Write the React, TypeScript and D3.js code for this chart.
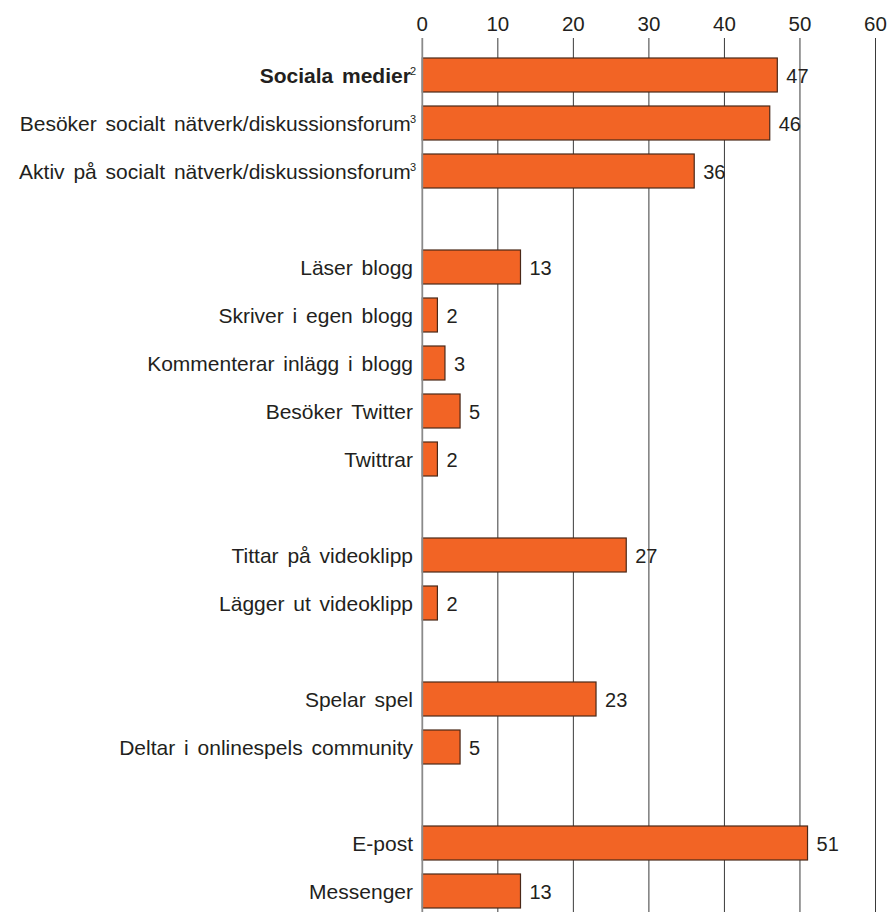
import React from "react";
import * as d3 from "d3";

const categories = [
  "Sociala medier",
  "Besöker socialt nätverk/diskussionsforum",
  "Aktiv på socialt nätverk/diskussionsforum",
  "",
  "Läser blogg",
  "Skriver i egen blogg",
  "Kommenterar inlägg i blogg",
  "Besöker Twitter",
  "Twittrar",
  "",
  "Tittar på videoklipp",
  "Lägger ut videoklipp",
  "",
  "Spelar spel",
  "Deltar i onlinespels community",
  "",
  "E-post",
  "Messenger",
];
const values: (number | null)[] = [47, 46, 36, null, 13, 2, 3, 5, 2, null, 27, 2, null, 23, 5, null, 51, 13];
const superscripts = ["2", "3", "3", "", "", "", "", "", "", "", "", "", "", "", "", "", "", ""];
const boldRows = [true, false, false, false, false, false, false, false, false, false, false, false, false, false, false, false, false, false];
const ticks = [0, 10, 20, 30, 40, 50, 60];

const W = 890;
const H = 912;
const FONT = "'Liberation Sans', Arial, Helvetica, sans-serif";
const TEXT = "#231f20";

export default function App() {
  const keys = categories.map((_, i) => String(i));
  const x = d3.scaleLinear().domain([0, 60]).range([422.3, 875.5]);
  const y = d3
    .scaleBand<string>()
    .domain(keys)
    .range([51, 51 + 48 * keys.length])
    .paddingInner(14 / 48)
    .paddingOuter(7 / 48);
  const bw = y.bandwidth();

  return (
    <svg width={W} height={H} style={{ position: "absolute", left: 0, top: 0, background: "#fff" }} fontFamily={FONT}>
      {ticks.map((t) => (
        <g key={t}>
          <text x={x(t)} y={31} textAnchor="middle" fontSize={20.5} fill={TEXT}>
            {t}
          </text>
          {t !== 0 && <line x1={x(t)} x2={x(t)} y1={38} y2={H} stroke="#3a3a3a" strokeWidth={1} />}
        </g>
      ))}
      {values.map((v, i) =>
        v == null ? null : (
          <g key={i}>
            <rect
              x={x(0)}
              y={y(keys[i])!}
              width={x(v) - x(0)}
              height={bw}
              fill="#f26425"
              stroke="#4a2818"
              strokeWidth={1.2}
            />
          </g>
        )
      )}
      <line x1={x(0)} x2={x(0)} y1={38} y2={H} stroke="#8a8a8a" strokeWidth={1.8} />
      {values.map((v, i) =>
        v == null ? null : (
          <g key={"t" + i}>
            <text
              x={x(v) + 9}
              y={y(keys[i])! + bw / 2 + 7.5}
              fontSize={20}
              fill={TEXT}
            >
              {v}
            </text>
            <text
              x={superscripts[i] ? 416 : 413}
              y={y(keys[i])! + bw / 2 + 7.5}
              textAnchor="end"
              fontSize={21}
              fill={TEXT}
              wordSpacing={3}
              fontWeight={boldRows[i] ? "bold" : "normal"}
            >
              {categories[i]}
              {superscripts[i] && (
                <tspan fontSize={11} dy={-8} dx={-1} fontWeight="normal">
                  {superscripts[i]}
                </tspan>
              )}
            </text>
          </g>
        )
      )}
    </svg>
  );
}
